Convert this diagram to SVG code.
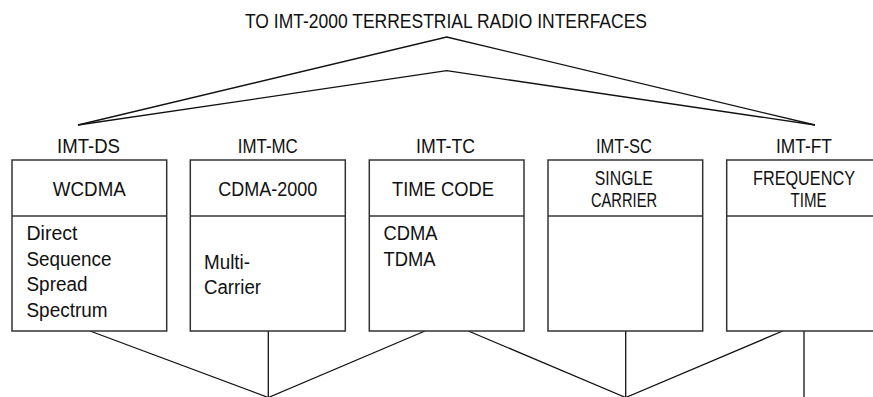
<svg xmlns="http://www.w3.org/2000/svg" width="873" height="397" viewBox="0 0 873 397">
<style>
text{font-family:"Liberation Sans",Arial,sans-serif;font-size:20px;fill:#111}
.c{text-anchor:middle;font-size:21px}
.box{fill:#fff;stroke:#333;stroke-width:1.5}
.ln{fill:none;stroke:#111;stroke-width:1.3}
</style>
<rect width="873" height="397" fill="#fff"/>
<text class="c" x="446" y="28" textLength="402" lengthAdjust="spacingAndGlyphs" style="font-size:20px">TO IMT-2000 TERRESTRIAL RADIO INTERFACES</text>
<g id="connectors">
<polyline class="ln" points="78,125 446.7,37 815,125"/>
<polyline class="ln" points="78,125 446.7,70.7 815,125"/>
<line class="ln" x1="90" y1="331" x2="268.3" y2="397.5"/>
<line class="ln" x1="268.3" y1="331" x2="268.3" y2="397.5"/>
<line class="ln" x1="425" y1="331" x2="268.3" y2="397.5"/>
<line class="ln" x1="468.3" y1="331" x2="625.7" y2="397.5"/>
<line class="ln" x1="625.7" y1="331" x2="625.7" y2="397.5"/>
<line class="ln" x1="782.7" y1="331" x2="625.7" y2="397.5"/>
<line class="ln" x1="804" y1="331" x2="804" y2="397.5"/>
</g>
<g id="imt-ds">
<text class="c" x="88.5" y="153" textLength="63" lengthAdjust="spacingAndGlyphs">IMT-DS</text>
<rect class="box" x="12" y="160" width="154.7" height="171"/>
<line class="box" x1="12" y1="216" x2="166.7" y2="216"/>
<text class="c" x="89.3" y="196" textLength="73" lengthAdjust="spacingAndGlyphs">WCDMA</text>
<text x="26.5" y="240" textLength="51" lengthAdjust="spacingAndGlyphs">Direct</text>
<text x="26.5" y="265.5" textLength="85" lengthAdjust="spacingAndGlyphs">Sequence</text>
<text x="26.5" y="291" textLength="61" lengthAdjust="spacingAndGlyphs">Spread</text>
<text x="26.5" y="316.5" textLength="81" lengthAdjust="spacingAndGlyphs">Spectrum</text>
</g>
<g id="imt-mc">
<text class="c" x="267.8" y="153" textLength="60" lengthAdjust="spacingAndGlyphs">IMT-MC</text>
<rect class="box" x="190.3" y="160" width="155" height="171"/>
<line class="box" x1="190.3" y1="216" x2="345.3" y2="216"/>
<text class="c" x="267.8" y="196" textLength="99" lengthAdjust="spacingAndGlyphs">CDMA-2000</text>
<text x="204" y="268.5" textLength="46" lengthAdjust="spacingAndGlyphs">Multi-</text>
<text x="204" y="294" textLength="57" lengthAdjust="spacingAndGlyphs">Carrier</text>
</g>
<g id="imt-tc">
<text class="c" x="445.5" y="153" textLength="59" lengthAdjust="spacingAndGlyphs">IMT-TC</text>
<rect class="box" x="369.3" y="160" width="154.7" height="171"/>
<line class="box" x1="369.3" y1="216" x2="524" y2="216"/>
<text class="c" x="443" y="196" textLength="102" lengthAdjust="spacingAndGlyphs">TIME CODE</text>
<text x="383.5" y="240" textLength="54" lengthAdjust="spacingAndGlyphs">CDMA</text>
<text x="383.5" y="265.5" textLength="52" lengthAdjust="spacingAndGlyphs">TDMA</text>
</g>
<g id="imt-sc">
<text class="c" x="624" y="153" textLength="56" lengthAdjust="spacingAndGlyphs">IMT-SC</text>
<rect class="box" x="548" y="160" width="154.7" height="171"/>
<line class="box" x1="548" y1="216" x2="702.7" y2="216"/>
<text class="c" x="623.8" y="185" textLength="58" lengthAdjust="spacingAndGlyphs">SINGLE</text>
<text class="c" x="624" y="207" textLength="66" lengthAdjust="spacingAndGlyphs">CARRIER</text>
</g>
<g id="imt-ft">
<text class="c" x="804" y="153" textLength="56" lengthAdjust="spacingAndGlyphs">IMT-FT</text>
<path class="box" d="M873,160 H726.7 V331 H873"/>
<line class="box" x1="726.7" y1="216" x2="873" y2="216"/>
<text class="c" x="804" y="185" textLength="102" lengthAdjust="spacingAndGlyphs">FREQUENCY</text>
<text class="c" x="808.5" y="207" textLength="36" lengthAdjust="spacingAndGlyphs">TIME</text>
</g>
</svg>
